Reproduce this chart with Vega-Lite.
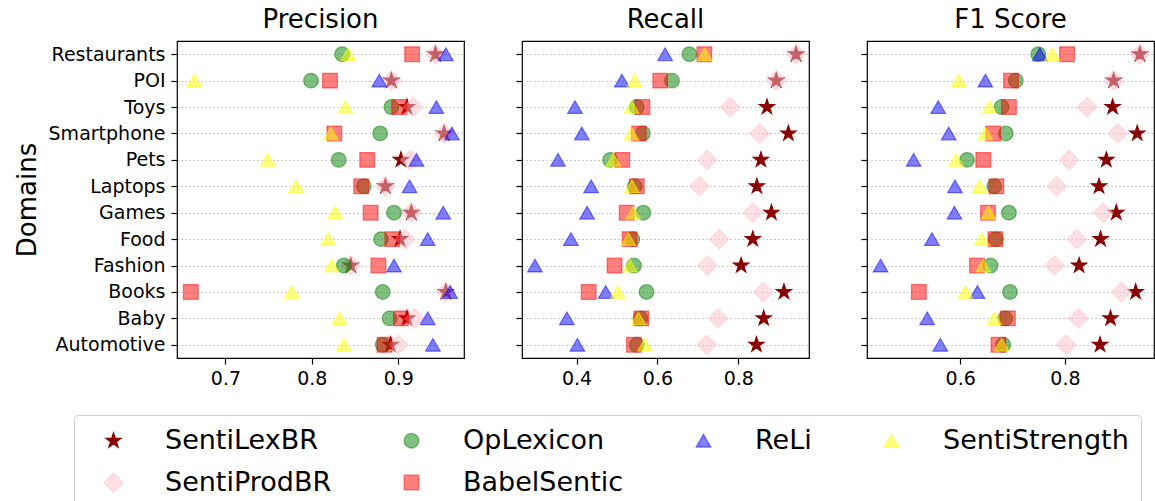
{
  "$schema": "https://vega.github.io/schema/vega-lite/v6.json",
  "background": "white",
  "padding": {"left": 13, "top": 6, "right": 0, "bottom": 0},
  "bounds": "flush",
  "spacing": 58,
  "config": {
    "font": "DejaVu Sans",
    "view": {"stroke": "black", "strokeWidth": 1.2},
    "title": {"fontSize": 26, "fontWeight": "normal", "font": "DejaVu Sans", "color": "black", "offset": 8},
    "axis": {"labelFont": "DejaVu Sans", "labelFontSize": 19, "labelColor": "black", "tickColor": "black", "tickSize": 6, "tickWidth": 1.2, "domain": false, "titleFont": "DejaVu Sans", "titleFontSize": 26, "titleFontWeight": "normal", "titleColor": "black"},
    "legend": {"symbolSize": 215, "symbolStrokeWidth": 1.2}
  },
  "data": {"values": [
    {"domain": "Restaurants", "method": "SentiLexBR", "precision": 0.943, "recall": 0.943, "f1": 0.943},
    {"domain": "POI", "method": "SentiLexBR", "precision": 0.892, "recall": 0.894, "f1": 0.893},
    {"domain": "Toys", "method": "SentiLexBR", "precision": 0.910, "recall": 0.871, "f1": 0.891},
    {"domain": "Smartphone", "method": "SentiLexBR", "precision": 0.953, "recall": 0.924, "f1": 0.938},
    {"domain": "Pets", "method": "SentiLexBR", "precision": 0.903, "recall": 0.856, "f1": 0.879},
    {"domain": "Laptops", "method": "SentiLexBR", "precision": 0.885, "recall": 0.846, "f1": 0.865},
    {"domain": "Games", "method": "SentiLexBR", "precision": 0.915, "recall": 0.882, "f1": 0.898},
    {"domain": "Food", "method": "SentiLexBR", "precision": 0.902, "recall": 0.836, "f1": 0.868},
    {"domain": "Fashion", "method": "SentiLexBR", "precision": 0.845, "recall": 0.807, "f1": 0.827},
    {"domain": "Books", "method": "SentiLexBR", "precision": 0.955, "recall": 0.913, "f1": 0.935},
    {"domain": "Baby", "method": "SentiLexBR", "precision": 0.910, "recall": 0.863, "f1": 0.887},
    {"domain": "Automotive", "method": "SentiLexBR", "precision": 0.891, "recall": 0.845, "f1": 0.867},

    {"domain": "Restaurants", "method": "SentiProdBR", "precision": 0.943, "recall": 0.943, "f1": 0.943},
    {"domain": "POI", "method": "SentiProdBR", "precision": 0.892, "recall": 0.894, "f1": 0.893},
    {"domain": "Toys", "method": "SentiProdBR", "precision": 0.917, "recall": 0.780, "f1": 0.842},
    {"domain": "Smartphone", "method": "SentiProdBR", "precision": 0.953, "recall": 0.853, "f1": 0.901},
    {"domain": "Pets", "method": "SentiProdBR", "precision": 0.914, "recall": 0.723, "f1": 0.808},
    {"domain": "Laptops", "method": "SentiProdBR", "precision": 0.885, "recall": 0.704, "f1": 0.784},
    {"domain": "Games", "method": "SentiProdBR", "precision": 0.915, "recall": 0.836, "f1": 0.873},
    {"domain": "Food", "method": "SentiProdBR", "precision": 0.908, "recall": 0.753, "f1": 0.823},
    {"domain": "Fashion", "method": "SentiProdBR", "precision": 0.845, "recall": 0.724, "f1": 0.780},
    {"domain": "Books", "method": "SentiProdBR", "precision": 0.955, "recall": 0.862, "f1": 0.908},
    {"domain": "Baby", "method": "SentiProdBR", "precision": 0.919, "recall": 0.750, "f1": 0.826},
    {"domain": "Automotive", "method": "SentiProdBR", "precision": 0.900, "recall": 0.722, "f1": 0.802},

    {"domain": "Restaurants", "method": "OpLexicon", "precision": 0.835, "recall": 0.679, "f1": 0.749},
    {"domain": "POI", "method": "OpLexicon", "precision": 0.799, "recall": 0.636, "f1": 0.706},
    {"domain": "Toys", "method": "OpLexicon", "precision": 0.892, "recall": 0.549, "f1": 0.679},
    {"domain": "Smartphone", "method": "OpLexicon", "precision": 0.879, "recall": 0.564, "f1": 0.687},
    {"domain": "Pets", "method": "OpLexicon", "precision": 0.831, "recall": 0.483, "f1": 0.613},
    {"domain": "Laptops", "method": "OpLexicon", "precision": 0.860, "recall": 0.544, "f1": 0.665},
    {"domain": "Games", "method": "OpLexicon", "precision": 0.895, "recall": 0.565, "f1": 0.693},
    {"domain": "Food", "method": "OpLexicon", "precision": 0.880, "recall": 0.538, "f1": 0.668},
    {"domain": "Fashion", "method": "OpLexicon", "precision": 0.837, "recall": 0.542, "f1": 0.658},
    {"domain": "Books", "method": "OpLexicon", "precision": 0.882, "recall": 0.573, "f1": 0.695},
    {"domain": "Baby", "method": "OpLexicon", "precision": 0.890, "recall": 0.558, "f1": 0.686},
    {"domain": "Automotive", "method": "OpLexicon", "precision": 0.882, "recall": 0.549, "f1": 0.682},

    {"domain": "Restaurants", "method": "BabelSentic", "precision": 0.916, "recall": 0.716, "f1": 0.804},
    {"domain": "POI", "method": "BabelSentic", "precision": 0.821, "recall": 0.607, "f1": 0.697},
    {"domain": "Toys", "method": "BabelSentic", "precision": 0.901, "recall": 0.563, "f1": 0.693},
    {"domain": "Smartphone", "method": "BabelSentic", "precision": 0.826, "recall": 0.554, "f1": 0.663},
    {"domain": "Pets", "method": "BabelSentic", "precision": 0.864, "recall": 0.513, "f1": 0.644},
    {"domain": "Laptops", "method": "BabelSentic", "precision": 0.857, "recall": 0.549, "f1": 0.669},
    {"domain": "Games", "method": "BabelSentic", "precision": 0.868, "recall": 0.524, "f1": 0.653},
    {"domain": "Food", "method": "BabelSentic", "precision": 0.893, "recall": 0.531, "f1": 0.667},
    {"domain": "Fashion", "method": "BabelSentic", "precision": 0.877, "recall": 0.494, "f1": 0.632},
    {"domain": "Books", "method": "BabelSentic", "precision": 0.660, "recall": 0.430, "f1": 0.521},
    {"domain": "Baby", "method": "BabelSentic", "precision": 0.903, "recall": 0.560, "f1": 0.691},
    {"domain": "Automotive", "method": "BabelSentic", "precision": 0.884, "recall": 0.542, "f1": 0.673},

    {"domain": "Restaurants", "method": "ReLi", "precision": 0.955, "recall": 0.619, "f1": 0.752},
    {"domain": "POI", "method": "ReLi", "precision": 0.878, "recall": 0.512, "f1": 0.648},
    {"domain": "Toys", "method": "ReLi", "precision": 0.944, "recall": 0.396, "f1": 0.558},
    {"domain": "Smartphone", "method": "ReLi", "precision": 0.962, "recall": 0.413, "f1": 0.578},
    {"domain": "Pets", "method": "ReLi", "precision": 0.921, "recall": 0.354, "f1": 0.511},
    {"domain": "Laptops", "method": "ReLi", "precision": 0.913, "recall": 0.436, "f1": 0.590},
    {"domain": "Games", "method": "ReLi", "precision": 0.952, "recall": 0.426, "f1": 0.589},
    {"domain": "Food", "method": "ReLi", "precision": 0.934, "recall": 0.386, "f1": 0.546},
    {"domain": "Fashion", "method": "ReLi", "precision": 0.895, "recall": 0.297, "f1": 0.448},
    {"domain": "Books", "method": "ReLi", "precision": 0.960, "recall": 0.472, "f1": 0.633},
    {"domain": "Baby", "method": "ReLi", "precision": 0.934, "recall": 0.376, "f1": 0.537},
    {"domain": "Automotive", "method": "ReLi", "precision": 0.940, "recall": 0.402, "f1": 0.562},

    {"domain": "Restaurants", "method": "SentiStrength", "precision": 0.842, "recall": 0.717, "f1": 0.776},
    {"domain": "POI", "method": "SentiStrength", "precision": 0.664, "recall": 0.543, "f1": 0.597},
    {"domain": "Toys", "method": "SentiStrength", "precision": 0.839, "recall": 0.536, "f1": 0.656},
    {"domain": "Smartphone", "method": "SentiStrength", "precision": 0.822, "recall": 0.536, "f1": 0.648},
    {"domain": "Pets", "method": "SentiStrength", "precision": 0.749, "recall": 0.491, "f1": 0.592},
    {"domain": "Laptops", "method": "SentiStrength", "precision": 0.782, "recall": 0.537, "f1": 0.637},
    {"domain": "Games", "method": "SentiStrength", "precision": 0.827, "recall": 0.540, "f1": 0.654},
    {"domain": "Food", "method": "SentiStrength", "precision": 0.819, "recall": 0.528, "f1": 0.641},
    {"domain": "Fashion", "method": "SentiStrength", "precision": 0.823, "recall": 0.532, "f1": 0.644},
    {"domain": "Books", "method": "SentiStrength", "precision": 0.777, "recall": 0.502, "f1": 0.610},
    {"domain": "Baby", "method": "SentiStrength", "precision": 0.832, "recall": 0.553, "f1": 0.665},
    {"domain": "Automotive", "method": "SentiStrength", "precision": 0.837, "recall": 0.569, "f1": 0.679}
  ]},
  "resolve": {"scale": {"x": "independent", "y": "shared", "shape": "shared", "fill": "shared", "stroke": "shared"}, "legend": {"shape": "shared", "fill": "shared", "stroke": "shared"}},
  "hconcat": [
    {
      "title": "Precision",
      "width": 287, "height": 317,
      "mark": {"type": "point", "filled": true, "size": 215, "strokeWidth": 1.2, "opacity": 1},
      "encoding": {
        "x": {"field": "precision", "type": "quantitative", "scale": {"domain": [0.644, 0.976], "nice": false, "zero": false}, "axis": {"values": [0.7, 0.8, 0.9], "format": ".1f", "title": null, "labelPadding": 5, "grid": false}},
        "y": {"field": "domain", "type": "nominal", "scale": {"domain": ["Restaurants", "POI", "Toys", "Smartphone", "Pets", "Laptops", "Games", "Food", "Fashion", "Books", "Baby", "Automotive"]}, "axis": {"title": "Domains", "titlePadding": 8, "labelPadding": 6, "grid": true, "gridColor": "#b0b0b0", "gridDash": [1.5, 2.5], "gridWidth": 0.8}},
        "shape": {"field": "method", "type": "nominal", "scale": {"domain": ["SentiLexBR", "OpLexicon", "ReLi", "SentiStrength", "SentiProdBR", "BabelSentic"], "range": ["M0,-1.08L0.243,-0.334L1.027,-0.334L0.393,0.128L0.635,0.874L0,0.413L-0.635,0.874L-0.393,0.128L-1.027,-0.334L-0.243,-0.334Z", "circle", "triangle-up", "triangle-up", "M0,-1.32L1.32,0L0,1.32L-1.32,0Z", "square"]}, "legend": {"orient": "none", "legendX": -103, "legendY": 374, "direction": "horizontal", "columns": 4, "title": null, "labelFontSize": 27, "labelFont": "DejaVu Sans", "labelColor": "black", "labelLimit": 400, "strokeColor": "#cccccc", "fillColor": "white", "padding": 12, "cornerRadius": 4, "columnPadding": 52, "rowPadding": 14, "labelOffset": 38, "symbolOffset": 14}},
        "fill": {"field": "method", "type": "nominal", "scale": {"domain": ["SentiLexBR", "OpLexicon", "ReLi", "SentiStrength", "SentiProdBR", "BabelSentic"], "range": ["#8b0000", "rgba(0,128,0,0.5)", "rgba(0,0,255,0.5)", "rgba(255,255,0,0.5)", "rgba(255,192,203,0.5)", "rgba(255,0,0,0.5)"]}},
        "stroke": {"field": "method", "type": "nominal", "scale": {"domain": ["SentiLexBR", "OpLexicon", "ReLi", "SentiStrength", "SentiProdBR", "BabelSentic"], "range": ["#8b0000", "rgba(0,128,0,0.5)", "rgba(0,0,255,0.5)", "rgba(255,255,0,0.5)", "rgba(255,192,203,0.5)", "rgba(255,0,0,0.5)"]}}
      }
    },
    {
      "title": "Recall",
      "width": 287, "height": 317,
      "mark": {"type": "point", "filled": true, "size": 215, "strokeWidth": 1.2, "opacity": 1},
      "encoding": {
        "x": {"field": "recall", "type": "quantitative", "scale": {"domain": [0.265, 0.975], "nice": false, "zero": false}, "axis": {"values": [0.4, 0.6, 0.8], "format": ".1f", "title": null, "labelPadding": 5, "grid": false}},
        "y": {"field": "domain", "type": "nominal", "scale": {"domain": ["Restaurants", "POI", "Toys", "Smartphone", "Pets", "Laptops", "Games", "Food", "Fashion", "Books", "Baby", "Automotive"]}, "axis": {"title": null, "labels": false, "grid": true, "gridColor": "#b0b0b0", "gridDash": [1.5, 2.5], "gridWidth": 0.8}},
        "shape": {"field": "method", "type": "nominal", "scale": {"domain": ["SentiLexBR", "OpLexicon", "ReLi", "SentiStrength", "SentiProdBR", "BabelSentic"], "range": ["M0,-1.08L0.243,-0.334L1.027,-0.334L0.393,0.128L0.635,0.874L0,0.413L-0.635,0.874L-0.393,0.128L-1.027,-0.334L-0.243,-0.334Z", "circle", "triangle-up", "triangle-up", "M0,-1.32L1.32,0L0,1.32L-1.32,0Z", "square"]}},
        "fill": {"field": "method", "type": "nominal", "scale": {"domain": ["SentiLexBR", "OpLexicon", "ReLi", "SentiStrength", "SentiProdBR", "BabelSentic"], "range": ["#8b0000", "rgba(0,128,0,0.5)", "rgba(0,0,255,0.5)", "rgba(255,255,0,0.5)", "rgba(255,192,203,0.5)", "rgba(255,0,0,0.5)"]}},
        "stroke": {"field": "method", "type": "nominal", "scale": {"domain": ["SentiLexBR", "OpLexicon", "ReLi", "SentiStrength", "SentiProdBR", "BabelSentic"], "range": ["#8b0000", "rgba(0,128,0,0.5)", "rgba(0,0,255,0.5)", "rgba(255,255,0,0.5)", "rgba(255,192,203,0.5)", "rgba(255,0,0,0.5)"]}}
      }
    },
    {
      "title": "F1 Score",
      "width": 287, "height": 317,
      "mark": {"type": "point", "filled": true, "size": 215, "strokeWidth": 1.2, "opacity": 1},
      "encoding": {
        "x": {"field": "f1", "type": "quantitative", "scale": {"domain": [0.422, 0.97], "nice": false, "zero": false}, "axis": {"values": [0.6, 0.8], "format": ".1f", "title": null, "labelPadding": 5, "grid": false}},
        "y": {"field": "domain", "type": "nominal", "scale": {"domain": ["Restaurants", "POI", "Toys", "Smartphone", "Pets", "Laptops", "Games", "Food", "Fashion", "Books", "Baby", "Automotive"]}, "axis": {"title": null, "labels": false, "grid": true, "gridColor": "#b0b0b0", "gridDash": [1.5, 2.5], "gridWidth": 0.8}},
        "shape": {"field": "method", "type": "nominal", "scale": {"domain": ["SentiLexBR", "OpLexicon", "ReLi", "SentiStrength", "SentiProdBR", "BabelSentic"], "range": ["M0,-1.08L0.243,-0.334L1.027,-0.334L0.393,0.128L0.635,0.874L0,0.413L-0.635,0.874L-0.393,0.128L-1.027,-0.334L-0.243,-0.334Z", "circle", "triangle-up", "triangle-up", "M0,-1.32L1.32,0L0,1.32L-1.32,0Z", "square"]}},
        "fill": {"field": "method", "type": "nominal", "scale": {"domain": ["SentiLexBR", "OpLexicon", "ReLi", "SentiStrength", "SentiProdBR", "BabelSentic"], "range": ["#8b0000", "rgba(0,128,0,0.5)", "rgba(0,0,255,0.5)", "rgba(255,255,0,0.5)", "rgba(255,192,203,0.5)", "rgba(255,0,0,0.5)"]}},
        "stroke": {"field": "method", "type": "nominal", "scale": {"domain": ["SentiLexBR", "OpLexicon", "ReLi", "SentiStrength", "SentiProdBR", "BabelSentic"], "range": ["#8b0000", "rgba(0,128,0,0.5)", "rgba(0,0,255,0.5)", "rgba(255,255,0,0.5)", "rgba(255,192,203,0.5)", "rgba(255,0,0,0.5)"]}}
      }
    }
  ]
}
